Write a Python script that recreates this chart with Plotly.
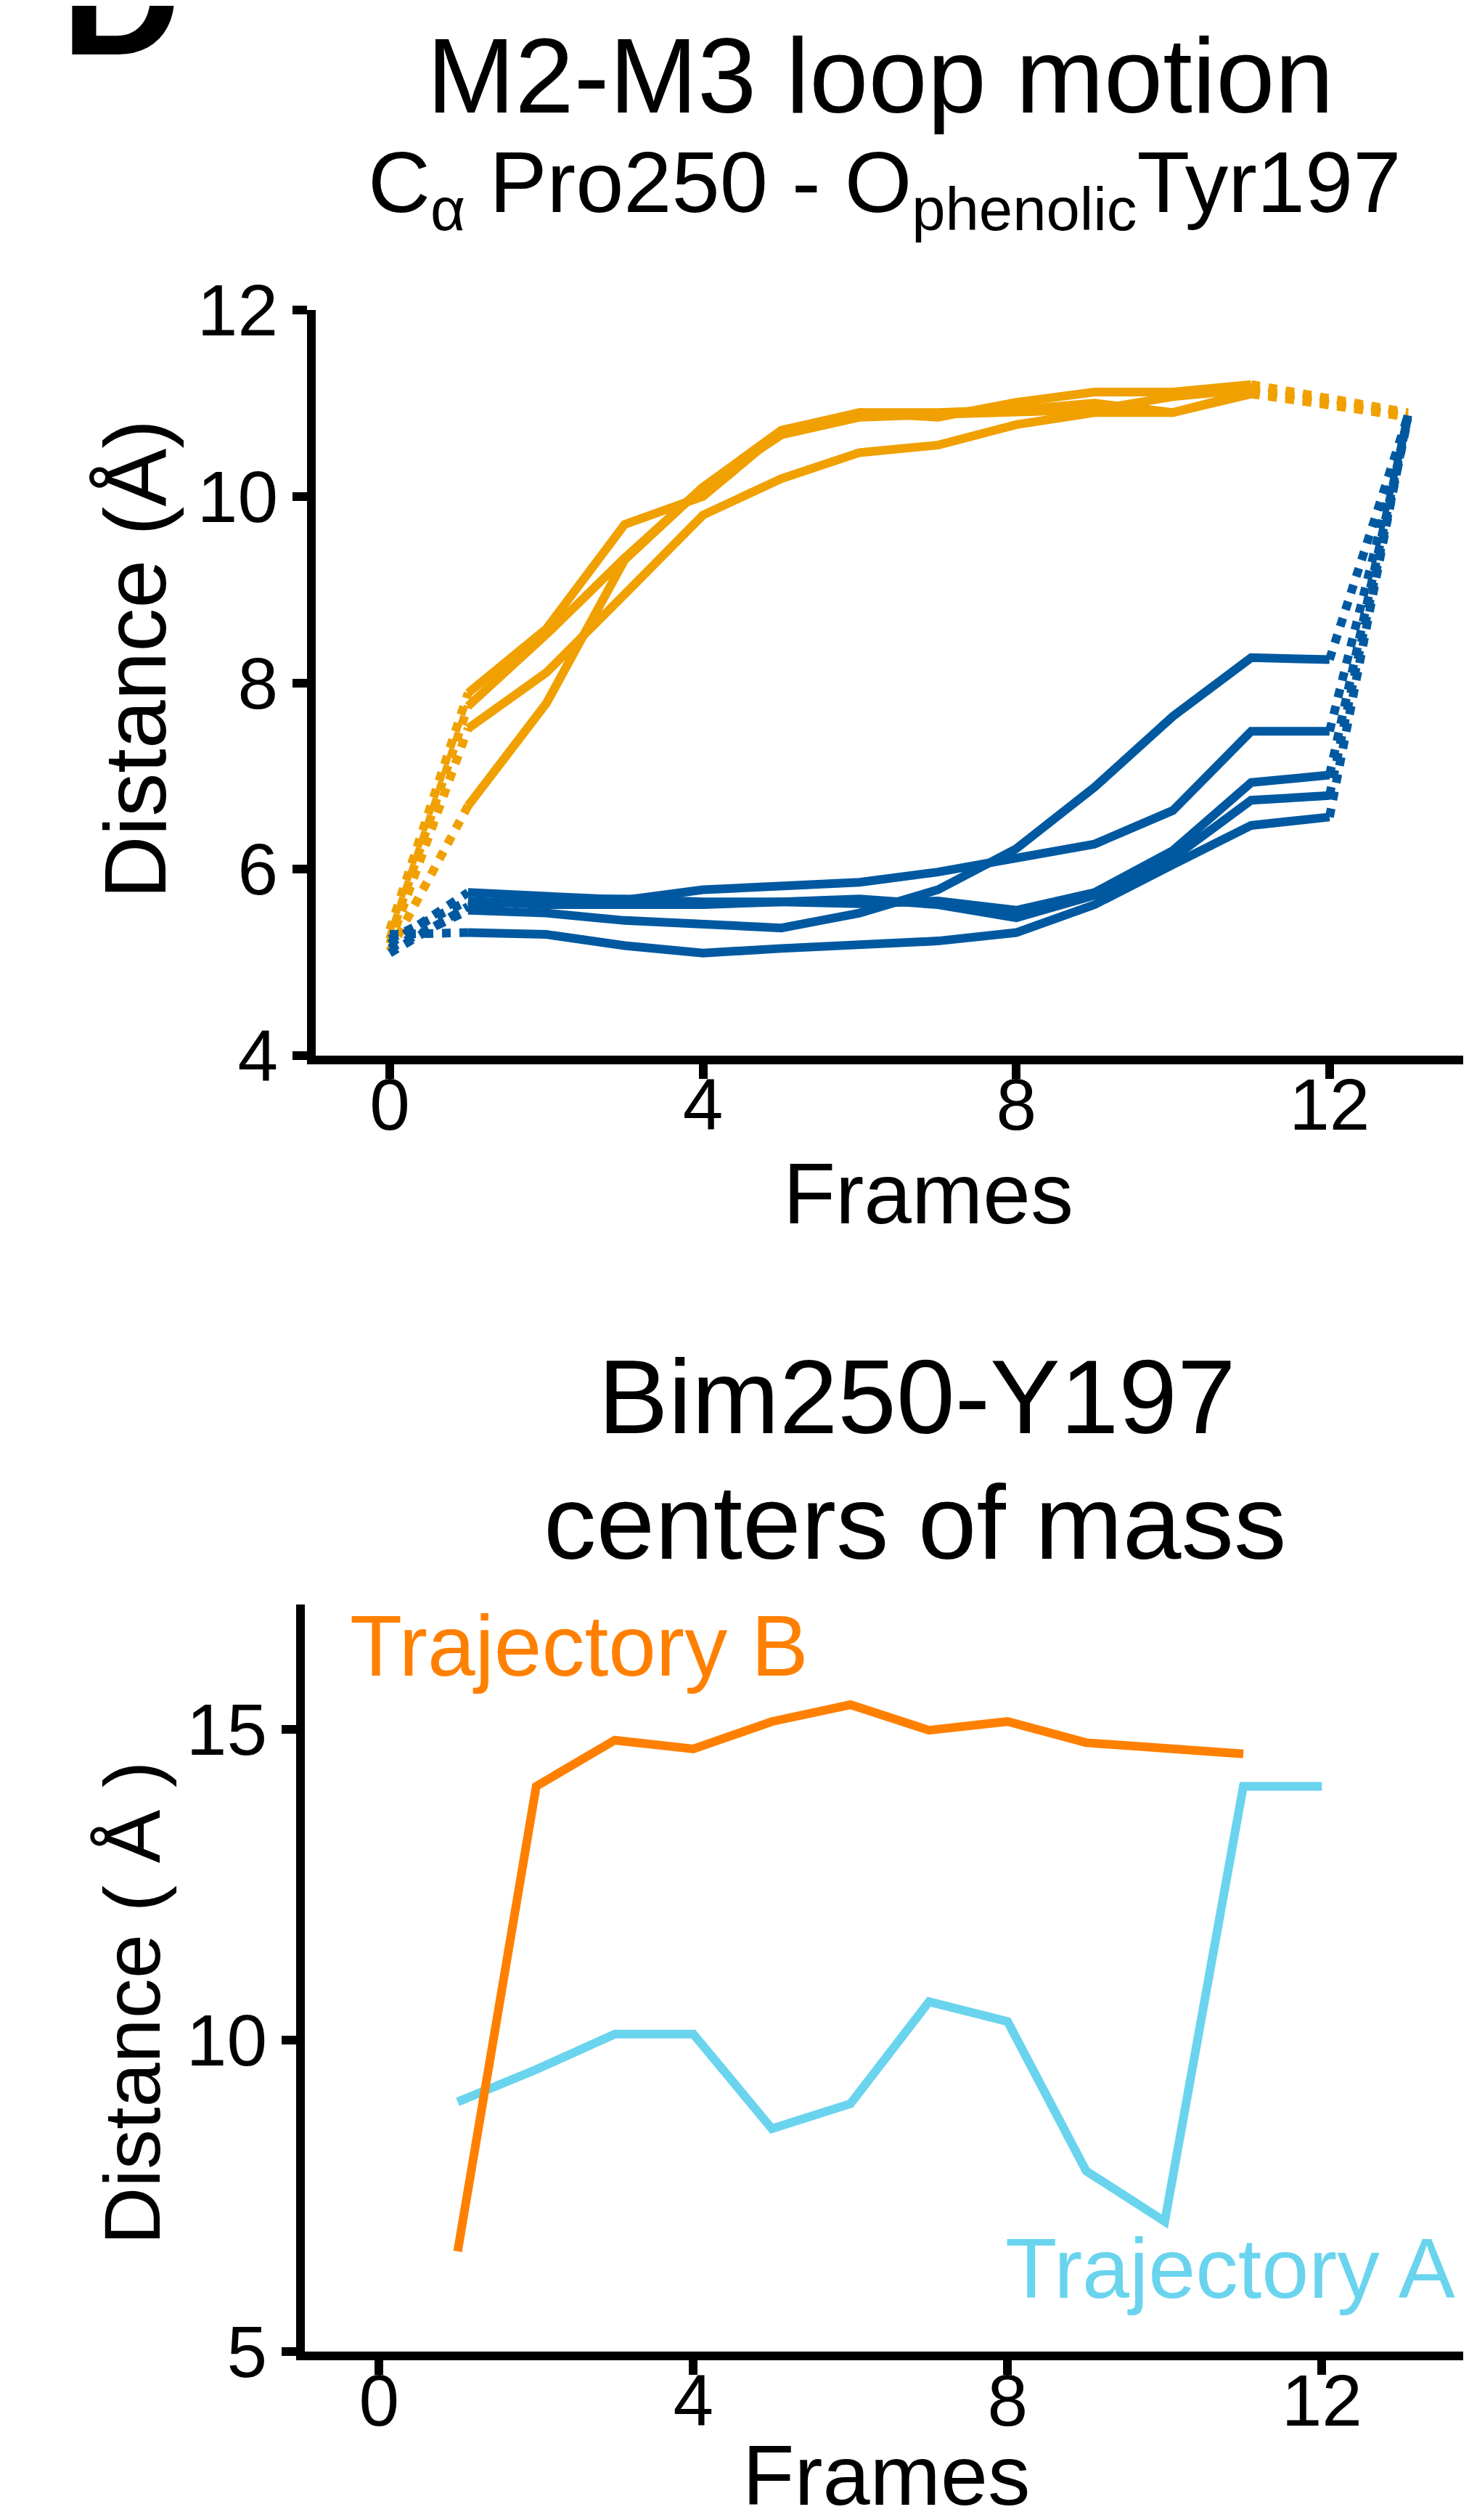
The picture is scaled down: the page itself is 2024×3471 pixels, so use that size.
import plotly.graph_objects as go

W, H = 2024, 3471
FONT = "Liberation Sans, Arial, sans-serif"

# top panel: distance per frame, orange = opening runs, blue = closing runs
open_frames = list(range(1, 12))
open_runs = [
    [7.89, 8.58, 9.70, 10.00, 10.70, 10.90, 10.85, 11.01, 11.12, 11.12, 11.20],
    [7.75, 8.52, 9.34, 10.10, 10.66, 10.85, 10.88, 10.90, 10.93, 11.07, 11.15],
    [7.51, 8.11, 8.95, 9.80, 10.19, 10.47, 10.55, 10.77, 10.90, 10.90, 11.10],
    [6.68, 7.78, 9.32, 10.10, 10.71, 10.90, 10.90, 10.93, 11.00, 10.90, 11.12],
]
open_start = [5.35, 5.25, 5.20, 5.12]
open_end = [10.90, 10.88, 10.86, 10.85]

closed_frames = list(range(1, 13))
closed_runs = [
    [5.56, 5.53, 5.45, 5.42, 5.37, 5.53, 5.78, 6.22, 6.88, 7.64, 8.27, 8.25],
    [5.75, 5.70, 5.67, 5.78, 5.81, 5.86, 5.97, 6.11, 6.27, 6.63, 7.48, 7.48],
    [5.60, 5.68, 5.68, 5.65, 5.65, 5.63, 5.66, 5.56, 5.75, 6.20, 6.93, 7.01],
    [5.66, 5.62, 5.62, 5.62, 5.65, 5.68, 5.62, 5.48, 5.72, 6.12, 6.74, 6.79],
    [5.32, 5.30, 5.18, 5.10, 5.15, 5.18, 5.23, 5.32, 5.62, 6.05, 6.47, 6.56],
]
closed_start = [5.15, 5.20, 5.10, 5.25, 5.30]
closed_end = [10.86, 10.84, 10.85, 10.83, 10.87]
first_frame, last_frame = 0, 13

# bottom panel: Bim250 - Y197 centers of mass
traj_b_frames = list(range(1, 12))
traj_b = [6.61, 14.08, 14.82, 14.68, 15.12, 15.39, 14.98, 15.12, 14.78, 14.70, 14.60]
traj_a_frames = list(range(1, 13))
traj_a = [9.01, 9.53, 10.10, 10.10, 8.58, 8.98, 10.62, 10.30, 7.90, 7.09, 14.08, 14.08]

ORANGE, BLUE = "#F0A000", "#0059A0"
TRAJ_B_COL, TRAJ_A_COL = "#FF8000", "#6AD4EE"
LW = 12


def dom_x(left_px):
    return [left_px / W, 1.0]


def dom_y(top_px, bottom_px):
    return [1 - bottom_px / H, 1 - top_px / H]


def label(text, x, baseline, size, color="black", xanchor="center"):
    return dict(text=text, x=x / W, y=1 - (baseline - 0.3465 * size) / H,
                xref="paper", yref="paper", xanchor=xanchor, yanchor="middle",
                showarrow=False, font=dict(family=FONT, size=size, color=color))


fig = go.Figure()

# top panel traces
for runs, frames, starts, ends, col in [
        (open_runs, open_frames, open_start, open_end, ORANGE),
        (closed_runs, closed_frames, closed_start, closed_end, BLUE)]:
    for vals, s, e in zip(runs, starts, ends):
        fig.add_trace(go.Scatter(x=[first_frame, frames[0]], y=[s, vals[0]], mode="lines",
                                 line=dict(color=col, width=LW, dash="dot"), xaxis="x", yaxis="y"))
        fig.add_trace(go.Scatter(x=[frames[-1], last_frame], y=[vals[-1], e], mode="lines",
                                 line=dict(color=col, width=LW, dash="dot"), xaxis="x", yaxis="y"))
        fig.add_trace(go.Scatter(x=frames, y=vals, mode="lines",
                                 line=dict(color=col, width=LW), xaxis="x", yaxis="y"))

# bottom panel traces
fig.add_trace(go.Scatter(x=traj_a_frames, y=traj_a, mode="lines",
                         line=dict(color=TRAJ_A_COL, width=LW), xaxis="x2", yaxis="y2"))
fig.add_trace(go.Scatter(x=traj_b_frames, y=traj_b, mode="lines",
                         line=dict(color=TRAJ_B_COL, width=LW), xaxis="x2", yaxis="y2"))

axis_style = dict(showline=True, linewidth=12, linecolor="black", ticks="outside",
                  ticklen=20, tickwidth=12, tickcolor="black", showgrid=False, zeroline=False,
                  automargin=False, tickfont=dict(family=FONT, size=100, color="black"))

# pixel calibration of the two panels
top_x0, top_ppf, top_left = 529, 107.9, 427
bot_x0, bot_ppf, bot_left = 514.3, 108.25, 412

fig.update_layout(
    width=W, height=H, margin=dict(l=0, r=0, t=0, b=0, autoexpand=False), autosize=False,
    paper_bgcolor="white", plot_bgcolor="white", showlegend=False,
    xaxis=dict(domain=dom_x(top_left), anchor="y", tickvals=[0, 4, 8, 12], ticklabelstandoff=-50,
               range=[(top_left - top_x0) / top_ppf, (W - top_x0) / top_ppf], **axis_style),
    yaxis=dict(domain=dom_y(419, 1446), anchor="x", tickvals=[4, 6, 8, 10, 12],
               range=[4, 12], **axis_style),
    xaxis2=dict(domain=dom_x(bot_left), anchor="y2", tickvals=[0, 4, 8, 12], ticklabelstandoff=-50,
                range=[(bot_left - bot_x0) / bot_ppf, (W - bot_x0) / bot_ppf], **axis_style),
    yaxis2=dict(domain=dom_y(2202, 3231), anchor="x2", tickvals=[5, 10, 15],
                range=[5, 17], **axis_style),
)

ann = [
    label("<b>D</b>", 74, 67, 230, xanchor="left"),
    label("M2-M3 loop motion", 1205, 147, 146),
    label("C<sub>α</sub> Pro250 - O<sub>phenolic</sub>Tyr197", 1210, 293, 119),
    label("Frames", 1271, 1677, 118),
    label("Bim250-Y197", 1255, 1966, 145),
    label("centers of mass", 1252, 2139, 145),
    label("Trajectory B", 472, 2300, 118, TRAJ_B_COL, "left"),
    label("Trajectory A", 1375, 3157, 117, TRAJ_A_COL, "left"),
    label("Frames", 1213, 3442, 117),
    dict(text="Distance (Å)", x=178 / W, y=1 - 900 / H, xref="paper", yref="paper",
         textangle=-90, showarrow=False, xanchor="center", yanchor="middle",
         font=dict(family=FONT, size=120, color="black")),
    dict(text="Distance ( Å )", x=173 / W, y=1 - 2751 / H, xref="paper", yref="paper",
         textangle=-90, showarrow=False, xanchor="center", yanchor="middle",
         font=dict(family=FONT, size=110, color="black")),
]
fig.update_layout(annotations=ann)

fig.write_html("out.html")
